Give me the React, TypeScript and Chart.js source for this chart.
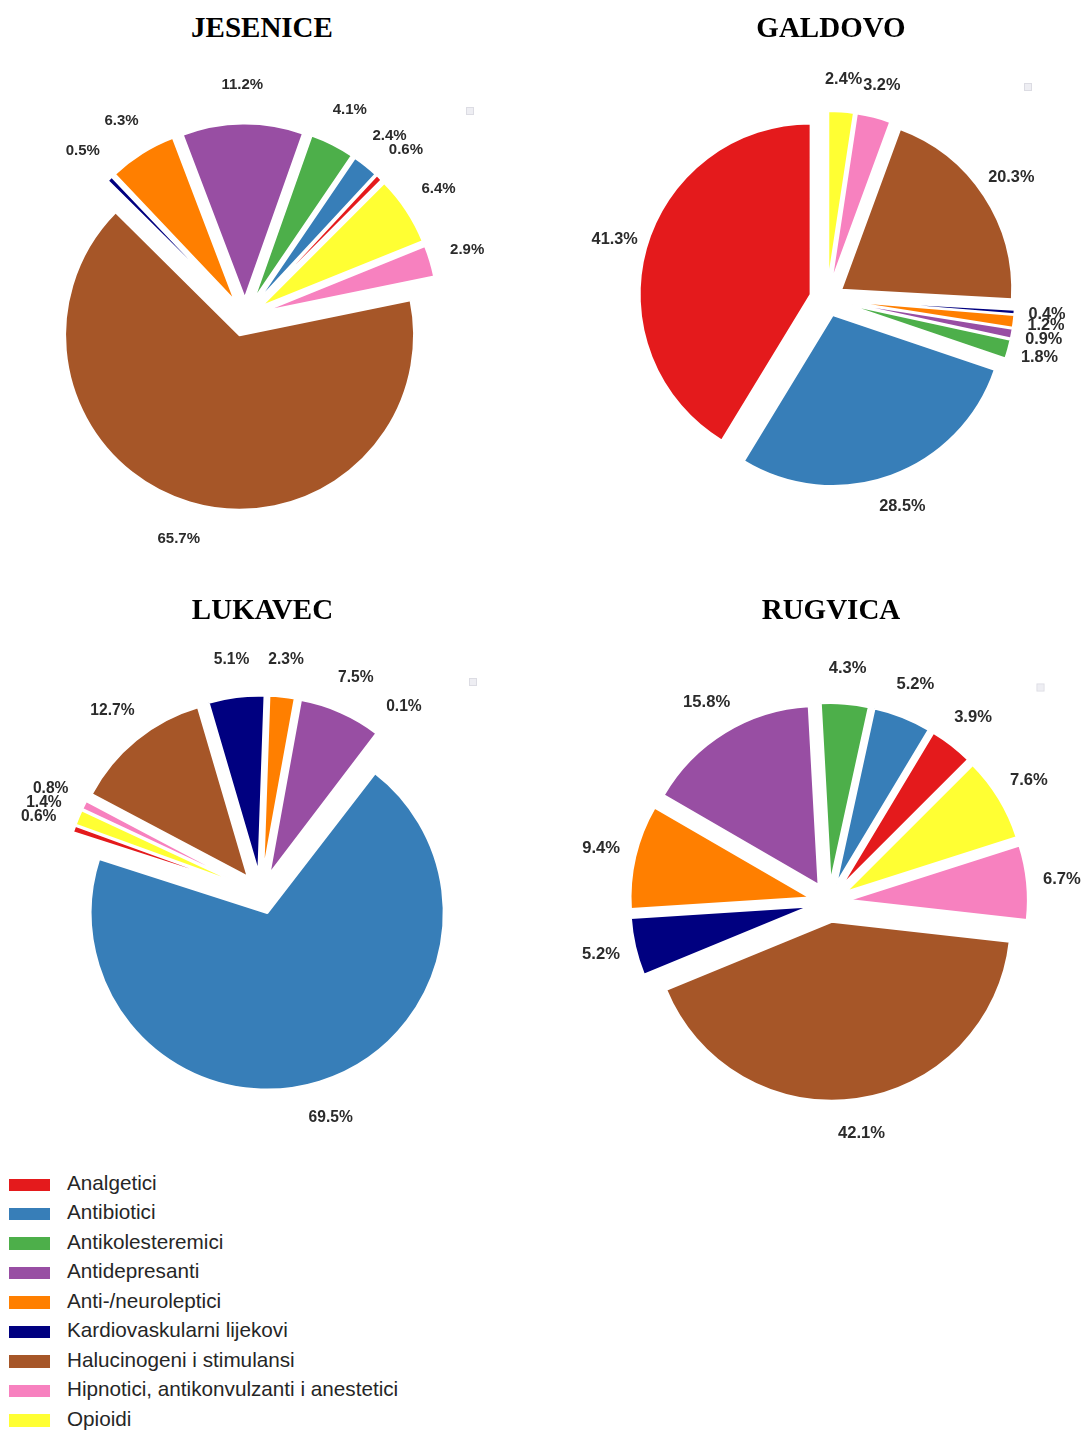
import React, { useEffect, useRef } from 'react';
import { Chart, registerables } from 'chart.js';

Chart.register(...registerables);

const categories = [
  'Analgetici',
  'Antibiotici',
  'Antikolesteremici',
  'Antidepresanti',
  'Anti-/neuroleptici',
  'Kardiovaskularni lijekovi',
  'Halucinogeni i stimulansi',
  'Hipnotici, antikonvulzanti i anestetici',
  'Opioidi',
];
const colors = ['#e41a1c', '#377eb8', '#4daf4a', '#984ea3', '#ff7f00', '#000080', '#a65628', '#f781bf', '#ffff33'];

const jeseniceValues = [0.6, 2.4, 4.1, 11.2, 6.3, 0.5, 65.7, 2.9, 6.4];
const galdovoValues = [41.3, 28.5, 1.8, 0.9, 1.2, 0.4, 20.3, 3.2, 2.4];
const lukavecValues = [0.6, 69.5, 0.1, 7.5, 2.3, 5.1, 12.7, 0.8, 1.4];
const rugvicaValues = [3.9, 5.2, 4.3, 15.8, 9.4, 5.2, 42.1, 6.7, 7.6];

const titles = ['JESENICE', 'GALDOVO', 'LUKAVEC', 'RUGVICA'];

type PieCfg = {
  title: string;
  values: number[];
  cx: number;
  cy: number;
  r: number;
  explode: number;
  labelDist: number;
  labelFont: number;
  startAngle: number; // matplotlib-like start angle (deg, counter-clockwise from 3 o'clock)
  titleX: number;
  titleTop: number;
  marker: [number, number];
};

const HALF = 270;

const pies: PieCfg[] = [
  { title: titles[0], values: jeseniceValues, cx: 245, cy: 317, r: 174.5, explode: 19, labelDist: 232, labelFont: 15, startAngle: 45, titleX: 262, titleTop: 12.7, marker: [470, 111] },
  { title: titles[1], values: galdovoValues, cx: 827, cy: 299, r: 171, explode: 17, labelDist: 220.5, labelFont: 16.3, startAngle: 90, titleX: 831, titleTop: 12.7, marker: [1028, 87] },
  { title: titles[2], values: lukavecValues, cx: 261, cy: 893, r: 176.5, explode: 21, labelDist: 235, labelFont: 15.6, startAngle: 160, titleX: 262.5, titleTop: 595, marker: [473, 682] },
  { title: titles[3], values: rugvicaValues, cx: 828.5, cy: 901.5, r: 179, explode: 20, labelDist: 234, labelFont: 16.6, startAngle: 45, titleX: 831, titleTop: 595, marker: [1040, 687] },
];

function PieChart({ cfg }: { cfg: PieCfg }) {
  const ref = useRef<HTMLCanvasElement | null>(null);
  useEffect(() => {
    if (!ref.current) return;
    // matplotlib draws counter-clockwise; Chart.js clockwise -> reverse order
    const data = [...cfg.values].reverse();
    const bg = [...colors].reverse();
    const labels = [...categories].reverse();

    const explodePlugin = {
      id: 'explodeSlices',
      beforeDatasetsDraw(chart: any) {
        const meta = chart.getDatasetMeta(0);
        const a = chart.chartArea;
        const cx = (a.left + a.right) / 2;
        const cy = (a.top + a.bottom) / 2;
        meta.data.forEach((el: any) => {
          const mid = (el.startAngle + el.endAngle) / 2;
          el.x = cx + cfg.explode * Math.cos(mid);
          el.y = cy + cfg.explode * Math.sin(mid);
        });
      },
      afterDatasetsDraw(chart: any) {
        const ctx = chart.ctx;
        const meta = chart.getDatasetMeta(0);
        const a = chart.chartArea;
        const cx = (a.left + a.right) / 2;
        const cy = (a.top + a.bottom) / 2;
        ctx.save();
        ctx.font = `bold ${cfg.labelFont}px "Liberation Sans", Arial, sans-serif`;
        ctx.fillStyle = '#2b2b2b';
        ctx.textAlign = 'center';
        ctx.textBaseline = 'middle';
        meta.data.forEach((el: any, i: number) => {
          const mid = (el.startAngle + el.endAngle) / 2;
          const x = cx + cfg.labelDist * Math.cos(mid);
          const y = cy + cfg.labelDist * Math.sin(mid);
          ctx.fillText(data[i].toFixed(1) + '%', x, y);
        });
        // small faint marker square seen in the reference
        const mx = cfg.marker[0] - (cfg.cx - HALF);
        const my = cfg.marker[1] - (cfg.cy - HALF);
        ctx.fillStyle = '#eeeef3';
        ctx.strokeStyle = '#dcdce3';
        ctx.lineWidth = 1;
        ctx.fillRect(mx - 3, my - 3, 6, 6);
        ctx.strokeRect(mx - 3.5, my - 3.5, 7, 7);
        ctx.restore();
      },
    };

    const chart = new Chart(ref.current, {
      type: 'pie',
      data: {
        labels,
        datasets: [
          {
            data,
            backgroundColor: bg,
            borderColor: '#ffffff',
            borderWidth: 2,
          },
        ],
      },
      options: {
        responsive: false,
        animation: false,
        events: [],
        radius: cfg.r,
        rotation: 90 - cfg.startAngle,
        layout: { padding: 0 },
        plugins: {
          legend: { display: false },
          tooltip: { enabled: false },
          title: { display: false },
        },
      } as any,
      plugins: [explodePlugin],
    });
    return () => chart.destroy();
  }, [cfg]);

  return (
    <>
      <canvas
        ref={ref}
        width={HALF * 2}
        height={HALF * 2}
        style={{ position: 'absolute', left: cfg.cx - HALF, top: cfg.cy - HALF, width: HALF * 2, height: HALF * 2 }}
      />
      <div
        style={{
          position: 'absolute',
          left: cfg.titleX - 200,
          top: cfg.titleTop,
          width: 400,
          textAlign: 'center',
          font: 'bold 29px "Liberation Serif", "Times New Roman", serif',
          lineHeight: '29px',
          color: '#000',
        }}
      >
        {cfg.title}
      </div>
    </>
  );
}

export default function App() {
  return (
    <div
      style={{
        position: 'absolute',
        left: 0,
        top: 0,
        width: 1085,
        height: 1433,
        overflow: 'hidden',
        background: '#fff',
      }}
    >
      {pies.map((p) => (
        <PieChart key={p.title} cfg={p} />
      ))}
      {categories.map((c, i) => {
        const center = 1184.5 + i * 29.45;
        return (
          <React.Fragment key={c}>
            <div
              style={{
                position: 'absolute',
                left: 9,
                top: center - 6,
                width: 41,
                height: 12.5,
                background: colors[i],
              }}
            />
            <div
              style={{
                position: 'absolute',
                left: 67,
                top: center - 11.5,
                font: '20.7px "Liberation Sans", Arial, sans-serif',
                lineHeight: '20.7px',
                color: '#262626',
                whiteSpace: 'nowrap',
              }}
            >
              {c}
            </div>
          </React.Fragment>
        );
      })}
    </div>
  );
}
